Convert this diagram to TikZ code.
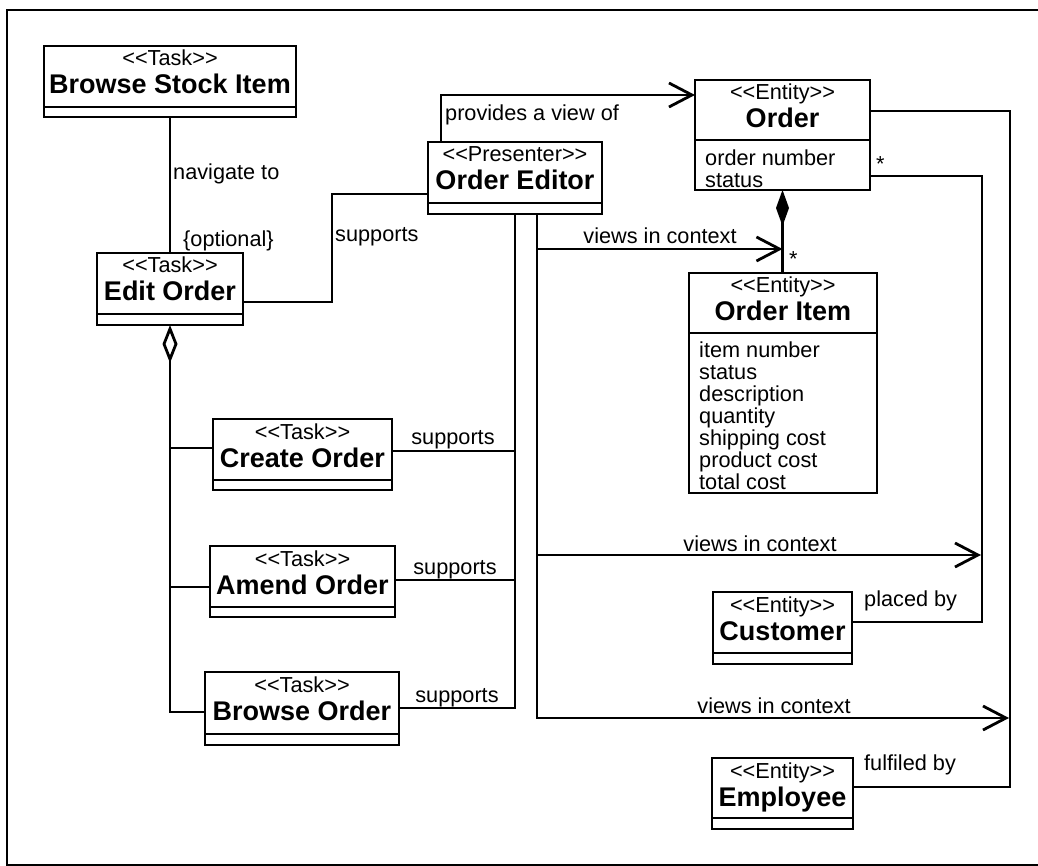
\documentclass[tikz,border=0pt]{standalone}
\usepackage{fontspec}
\setmainfont{Liberation Sans}[Ligatures=TeXOff]
\usetikzlibrary{arrows.meta}

\tikzset{
  ln/.style={line width=2.8pt},
  classbox/.style={draw, line width=2.8pt, inner sep=0pt, outer sep=0pt, fill=white},
  stereo/.style={anchor=base, inner sep=0pt, font=\fontsize{21.7}{24}\selectfont},
  cname/.style={anchor=base, inner sep=0pt, font=\fontsize{27}{30}\selectfont\bfseries},
  attr/.style={anchor=base west, inner sep=0pt, font=\fontsize{21.7}{24}\selectfont},
  lbl/.style={anchor=base west, inner sep=0pt, font=\fontsize{21.7}{24}\selectfont},
  lblc/.style={anchor=base, inner sep=0pt, font=\fontsize{21.7}{24}\selectfont},
  nav/.style={ln, -{Straight Barb[length=23pt,width=24pt]}},
  composite/.style={ln, {Diamond[length=36pt,width=13pt]}-},
  aggregate/.style={ln, {Diamond[open,length=38pt,width=15pt]}-},
}

% UML class: name, x1, y1, x2, y2, separator y, stereotype, class name
\newcommand\umlclass[8]{%
  \node[classbox, minimum width={#4-#2}, minimum height={#5-#3}, anchor=north west] (#1) at (#2,#3) {};
  \draw[ln] (#2,#6) -- (#4,#6);
  \node[stereo] (#1-st) at ({(#2+#4)/2},{#3+20}) {<<#7>>};
  \node[cname] (#1-nm) at ({(#2+#4)/2},{#3+48}) {#8};
}

\begin{document}
\begin{tikzpicture}[x=1pt, y=-1pt]
  \useasboundingbox (0,0) rectangle (1038,866);
  \draw[line width=2pt] (7,10) rectangle (1060,865);

  % classes
  \umlclass{BSI}{44}{46}{296}{117}{107}{Task}{Browse Stock Item}
  \umlclass{EO}{97}{253}{243}{325}{314}{Task}{Edit Order}
  \umlclass{OE}{428}{142}{602}{214}{203}{Presenter}{Order Editor}
  \umlclass{ORD}{695}{80}{870}{190}{140}{Entity}{Order}
  \umlclass{OI}{689}{273}{877}{493}{333}{Entity}{Order Item}
  \umlclass{CO}{213}{419}{392}{490}{480}{Task}{Create Order}
  \umlclass{AO}{210}{546}{395}{617}{607}{Task}{Amend Order}
  \umlclass{BO}{205}{672}{399}{745}{734}{Task}{Browse Order}
  \umlclass{CU}{713}{592}{852}{664}{653}{Entity}{Customer}
  \umlclass{EM}{712}{758}{853}{829}{818}{Entity}{Employee}

  % attributes
  \node[attr] (ord-a1) at (705,166) {order number};
  \node[attr] (ord-a2) at (705,188) {status};
  \node[attr] (oi-a1) at (699,357) {item number};
  \node[attr] (oi-a2) at (699,379) {status};
  \node[attr] (oi-a3) at (699,401) {description};
  \node[attr] (oi-a4) at (699,423) {quantity};
  \node[attr] (oi-a5) at (699,445) {shipping cost};
  \node[attr] (oi-a6) at (699,467) {product cost};
  \node[attr] (oi-a7) at (699,489) {total cost};

  % navigation between tasks
  \draw[ln] (BSI.south) -- (EO.north);
  \node[lbl] (l-nav) at (173,180) {navigate to};
  \node[lbl] (l-opt) at (183,247) {\{optional\}};

  % task aggregation
  \draw[aggregate] (EO.south) |- (BO.west |- 0,712);
  \draw[ln] (EO.south |- 0,448) -- (CO.west |- 0,448);
  \draw[ln] (EO.south |- 0,587) -- (AO.west |- 0,587);

  % presenter supports the tasks
  \draw[ln] (EO.east |- 0,302) -| (332,194) -- (OE.west |- 0,194);
  \node[lbl] (l-sup0) at (335,242) {supports};
  \draw[ln] (OE.south -| 515,0) -- (515,708) -- (BO.east |- 0,708);
  \draw[ln] (CO.east |- 0,451) -- (515,451);
  \draw[ln] (AO.east |- 0,580) -- (515,580);
  \node[lblc] (l-sup1) at (453,444) {supports};
  \node[lblc] (l-sup2) at (455,574) {supports};
  \node[lblc] (l-sup3) at (457,702) {supports};

  % presenter views the entities
  \draw[nav] (OE.north -| 441,0) |- (ORD.west |- 0,95);
  \node[lbl] (l-prov) at (445,121) {provides a view of};

  \coordinate (ctx-top) at (537,249);
  \coordinate (ctx-cu) at (537,555);
  \draw[ln] (OE.south -| 537,0) -- (ctx-top);
  \draw[ln] (ctx-top) -- (ctx-cu);
  \draw[nav] (ctx-cu) |- (1009,718);
  \draw[nav] (ctx-top) -- (ORD.south |- ctx-top);
  \draw[nav] (ctx-cu) -- (981,555);
  \node[lblc] (l-ctx1) at (660,244) {views in context};
  \node[lblc] (l-ctx2) at (760,551) {views in context};
  \node[lblc] (l-ctx3) at (774,713) {views in context};

  % order composition
  \draw[composite] (ORD.south) -- (ORD.south |- OI.north);
  \node[lbl] (m-oi) at (789,266.5) {*};

  % order associations
  \draw[ln] (ORD.east |- 0,176) -| (982,622) -- (CU.east |- 0,622);
  \node[lbl] (m-ord) at (876,171.5) {*};
  \node[lbl] (l-placed) at (864,606) {placed by};
  \draw[ln] (ORD.east |- 0,111) -| (1010,787) -- (EM.east |- 0,787);
  \node[lbl] (l-fulfil) at (864,770) {fulfiled by};
\end{tikzpicture}
\end{document}
